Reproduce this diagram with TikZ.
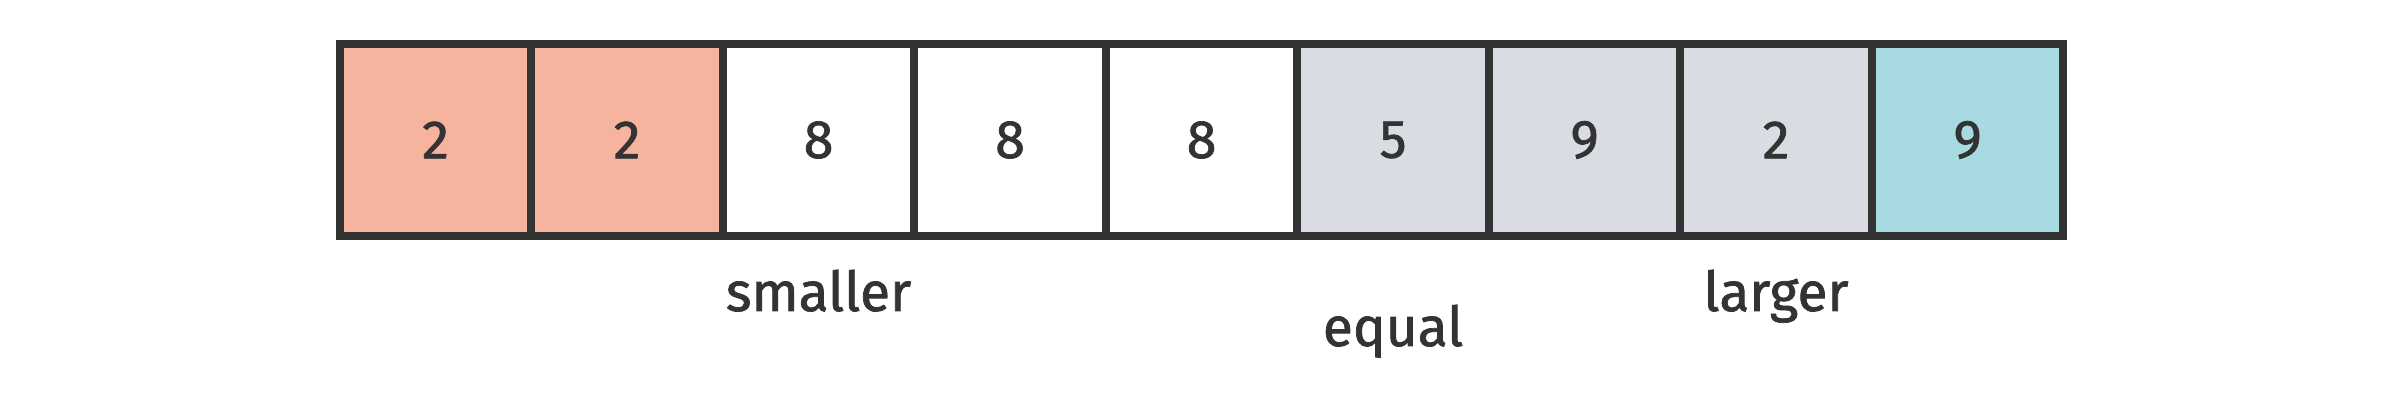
\documentclass[tikz,border=0pt]{standalone}
\usepackage{fontspec}
\setmainfont{Fira Sans}[FakeBold=1.3]
\definecolor{ink}{HTML}{333333}
\definecolor{salmon}{HTML}{F6B39D}
\definecolor{grayc}{HTML}{D9DCE3}
\definecolor{teal}{HTML}{A8DAE2}
\begin{document}
\begin{tikzpicture}[x=1pt,y=1pt,
  cell/.style={draw=ink, line width=8pt, minimum width=191.5pt, minimum height=192pt, inner sep=0pt, outer sep=0pt, text=ink, font=\fontsize{54}{60}\selectfont},
  lbl/.style={anchor=base, text=ink, inner sep=0pt, font=\fontsize{55}{60}\selectfont}]
\useasboundingbox (0,0) rectangle (2400,404);
\foreach \i/\v/\c in {1/2/salmon,2/2/salmon,3/8/white,4/8/white,5/8/white,6/5/grayc,7/9/grayc,8/2/grayc,9/9/teal}{
  \node[cell, fill=\c] (c\i) at ({339.8+191.5*(\i-0.5)},264) {\v};
}
\node[lbl] (smaller) at (c3.center |- 0,93) {smaller};
\node[lbl] (equal) at (c6.center |- 0,58) {equal};
\node[lbl] (larger) at (c8.center |- 0,93) {larger};
\end{tikzpicture}
\end{document}
